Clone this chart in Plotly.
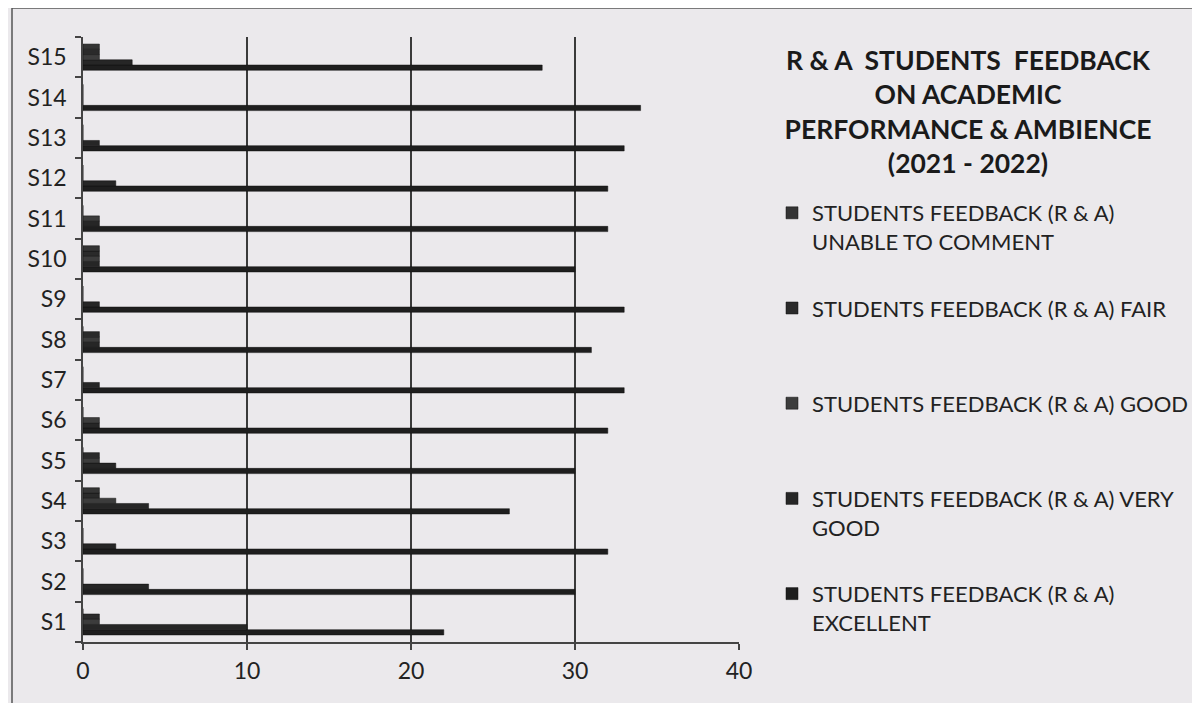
import plotly.graph_objects as go

categories = ["S1", "S2", "S3", "S4", "S5", "S6", "S7", "S8", "S9", "S10", "S11", "S12", "S13", "S14", "S15"]
excellent = [22, 30, 32, 26, 30, 32, 33, 31, 33, 30, 32, 32, 33, 34, 28]
very_good = [10, 4, 2, 4, 2, 1, 1, 1, 1, 1, 1, 2, 1, 0, 3]
good = [1, 0, 0, 2, 1, 1, 0, 1, 0, 1, 1, 0, 0, 0, 1]
fair = [1, 0, 0, 1, 1, 0, 0, 1, 0, 1, 0, 0, 0, 0, 1]
unable = [0, 0, 0, 1, 0, 0, 0, 0, 0, 1, 0, 0, 0, 0, 1]
x_ticks = [0, 10, 20, 30, 40]

series = [
    ("STUDENTS FEEDBACK (R & A)<br>EXCELLENT", excellent, "#1e1e1e"),
    ("STUDENTS FEEDBACK (R & A) VERY<br>GOOD", very_good, "#262626"),
    ("STUDENTS FEEDBACK (R & A) GOOD<br> ", good, "#3c3c3c"),
    ("STUDENTS FEEDBACK (R & A) FAIR<br> ", fair, "#2a2a2a"),
    ("STUDENTS FEEDBACK (R & A)<br>UNABLE TO COMMENT", unable, "#343434"),
]

BG = "#ebe9ec"
FONT = "Lato"
OFF = 8  # page body margin

fig = go.Figure()
for i, (name, vals, col) in enumerate(series):
    fig.add_trace(go.Bar(
        y=categories, x=vals, name=name, orientation="h",
        legendgroup=f"g{i}", legendrank=1000 - i,
        marker=dict(color=col, line=dict(color="#111111", width=0.5)),
    ))

W, H = 1200 - OFF, 703 - OFF
L, T = 83 - OFF, 37 - OFF
pw, ph = 656, 605
R = W - L - pw
B = H - T - ph

def px_x(px):
    return (px - OFF - L) / pw

def px_y(py):
    return 1 - (py - OFF - T) / ph

def cx(px):
    return (px - OFF) / W

def cy(py):
    return 1 - (py - OFF) / H

fig.update_layout(
    width=W, height=H,
    margin=dict(l=L, r=R, t=T, b=B),
    paper_bgcolor=BG, plot_bgcolor=BG,
    font=dict(family=FONT, color="#222222", size=22),
    barmode="group", bargap=0.35, bargroupgap=0.0,
    title=dict(
        text="<b>R & A  STUDENTS  FEEDBACK<br>ON ACADEMIC<br>PERFORMANCE & AMBIENCE<br>(2021 - 2022)</b>",
        x=cx(968), xanchor="center", xref="container",
        y=cy(70), yanchor="middle", yref="container",
        font=dict(family=FONT, size=26.5, color="#1a1a1a"),
    ),
    legend=dict(
        xref="container", yref="container",
        x=cx(772), y=cy(192), xanchor="left", yanchor="top",
        traceorder="grouped", tracegroupgap=35, maxheight=600,
        valign="top", bgcolor="rgba(0,0,0,0)",
        font=dict(family=FONT, size=22, color="#222222"),
    ),
    xaxis=dict(
        range=[0, 40], tickvals=x_ticks, ticktext=[str(v) for v in x_ticks],
        showgrid=True, gridcolor="#3a3a3a", gridwidth=1.5,
        showline=True, linecolor="#444444", linewidth=1.5,
        ticks="outside", ticklen=6, tickcolor="#444444", tickwidth=1.5,
        tickfont=dict(family=FONT, size=23, color="#222222"),
        ticklabelstandoff=2, automargin=False,
        zeroline=False, fixedrange=True,
    ),
    yaxis=dict(
        categoryorder="array", categoryarray=categories,
        range=[-0.5, 14.5],
        showgrid=False, showline=True, linecolor="#444444", linewidth=1.5,
        ticks="outside", ticklen=6, tickcolor="#444444", tickwidth=1.5,
        tickson="boundaries", ticklabelstandoff=10, automargin=False,
        tickfont=dict(family=FONT, size=23, color="#222222"),
        zeroline=False, fixedrange=True,
    ),
    shapes=[dict(
        type="rect", xref="paper", yref="paper",
        x0=px_x(12), x1=px_x(1215), y0=px_y(8), y1=px_y(720),
        line=dict(color="#555555", width=1.5), fillcolor="rgba(0,0,0,0)", layer="below",
    )],
)

fig.write_html("out.html")
